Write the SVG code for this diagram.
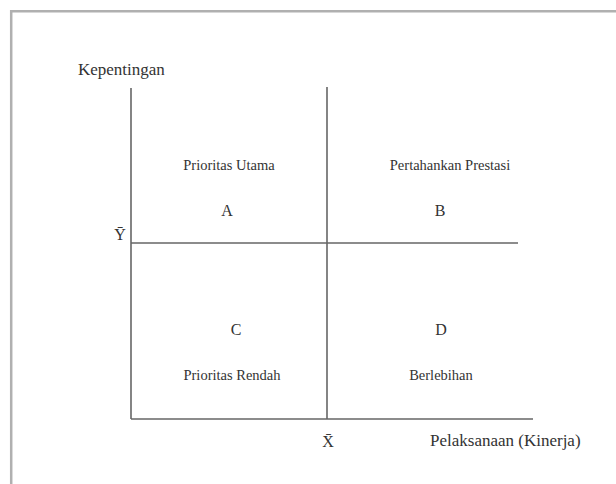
<svg xmlns="http://www.w3.org/2000/svg" width="616" height="484" viewBox="0 0 616 484">
<style>
  text { font-family: "Liberation Serif", "Times New Roman", serif; fill: #333; }
  .q { font-size: 14.5px; text-anchor: middle; }
  .l { font-size: 16px; text-anchor: middle; }
  .ax { font-size: 17px; }
  .line { stroke: #666; stroke-width: 1.6; fill: none; }
  .frame { stroke: #b0b0b0; stroke-width: 2.5; fill: none; }
</style>
<rect width="616" height="484" fill="#fff"/>
<path class="frame" d="M11.2 484 V11.2 H616"/>
<g id="connectors">
  <line class="line" x1="131" y1="88" x2="131" y2="419"/>
  <line class="line" x1="327" y1="87" x2="327" y2="419"/>
  <line class="line" x1="131" y1="243" x2="518" y2="243"/>
  <line class="line" x1="131" y1="419" x2="533" y2="419"/>
</g>
<g id="axis-y"><text class="ax" x="78" y="75">Kepentingan</text></g>
<g id="axis-x"><text class="ax" x="430" y="446">Pelaksanaan (Kinerja)</text></g>
<g id="mean-y"><text class="l" x="120" y="240">Ȳ</text></g>
<g id="mean-x"><text class="l" x="328" y="447">X̄</text></g>
<g id="quadrant-a">
  <text class="q" x="229" y="170">Prioritas Utama</text>
  <text class="l" x="227" y="216">A</text>
</g>
<g id="quadrant-b">
  <text class="q" x="450" y="170">Pertahankan Prestasi</text>
  <text class="l" x="440" y="216">B</text>
</g>
<g id="quadrant-c">
  <text class="l" x="236" y="335">C</text>
  <text class="q" x="232" y="380">Prioritas Rendah</text>
</g>
<g id="quadrant-d">
  <text class="l" x="441" y="335">D</text>
  <text class="q" x="441" y="380">Berlebihan</text>
</g>
</svg>
